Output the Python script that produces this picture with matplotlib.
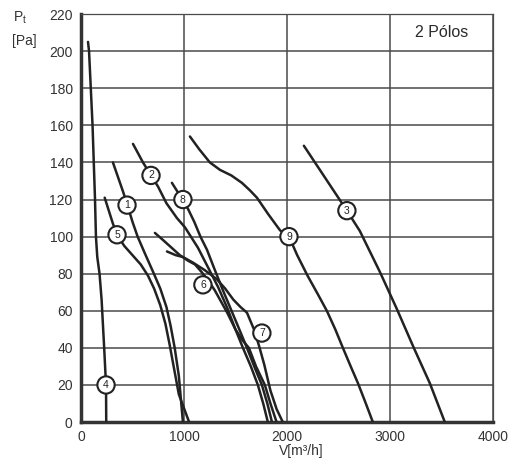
import matplotlib
matplotlib.use("Agg")
import matplotlib.pyplot as plt

plt.rcParams['font.family'] = ['Liberation Sans Narrow', 'Liberation Sans', 'DejaVu Sans']

# fan curves: flow V [m3/h] and pressure Pt [Pa]
v1 = [310, 360, 410, 456, 500, 550, 620, 700, 770, 830, 870, 910, 950, 990]
p1 = [140, 132, 124, 116, 108, 100, 91, 81, 72, 62, 52, 40, 25, 0]

v5 = [230, 270, 310, 350, 420, 500, 580, 650, 710, 770, 820, 860, 900, 950, 1050]
p5 = [121, 114, 107, 101, 95, 90, 85, 79, 72, 63, 53, 42, 30, 15, 0]

v2 = [505, 602, 680, 748, 830, 932, 1010, 1136, 1233, 1330, 1417, 1500, 1573, 1650, 1718, 1770, 1815]
p2 = [150, 140, 133, 127, 118, 110, 105, 94, 83.5, 73, 62, 50, 40, 30, 20, 10, 0]

v8 = [883, 940, 990, 1039, 1100, 1160, 1223, 1300, 1379, 1447, 1530, 1612, 1690, 1757, 1810, 1855]
p8 = [129, 124, 119, 115, 108, 100, 93, 82, 71, 62, 51, 40, 29, 20, 10, 0]

v6 = [718, 800, 880, 960, 1040, 1107, 1170, 1240, 1300, 1360, 1420, 1500, 1570, 1631, 1700, 1786, 1840, 1900]
p6 = [102, 98, 94, 90, 87, 85, 81, 76, 71, 65, 59, 50, 44, 40, 30, 20, 10, 0]

v7 = [835, 920, 990, 1087, 1200, 1320, 1400, 1480, 1550, 1612, 1680, 1730, 1780, 1840, 1900, 1960]
p7 = [92, 90, 89, 86, 82, 77, 72, 66, 62, 59, 50, 41, 31, 17, 7, 0]

v4 = [68, 78, 95, 112, 136, 145, 158, 180, 200, 225, 243, 245]
p4 = [205, 200, 180, 160, 120, 100, 89, 80, 66, 40, 20, 0]

v9 = [1058, 1150, 1252, 1350, 1460, 1563, 1640, 1709, 1820, 1932, 2029, 2100, 2200, 2300, 2388, 2470, 2544, 2620, 2690, 2760, 2835]
p9 = [154, 147, 140, 136, 133, 129, 125, 121, 112, 103.5, 99, 90, 79, 69, 60, 50, 40, 30, 21, 11, 0]

v3 = [2165, 2583, 2709, 2903, 3068, 3233, 3388, 3534]
p3 = [149, 114, 103, 81, 61, 40, 21, 0]

curves = [(v1, p1), (v2, p2), (v3, p3), (v4, p4), (v5, p5),
          (v6, p6), (v7, p7), (v8, p8), (v9, p9)]

labels = ['1', '2', '3', '4', '5', '6', '7', '8', '9']
label_v = [447, 680, 2583, 243, 350, 1184, 1757, 990, 2020]
label_p = [117, 133, 114, 20, 101, 74, 48, 120, 100]

fig = plt.figure(figsize=(5.16, 4.70), dpi=100)
ax = fig.add_axes([0.157, 0.102, 0.798, 0.868])

for v, p in curves:
    ax.plot(v, p, color='#222222', lw=1.8, solid_capstyle='round',
            solid_joinstyle='round', zorder=3)

for t, x, y in zip(labels, label_v, label_p):
    ax.text(x, y, t, ha='center', va='center', fontsize=7.5, color='#222222',
            bbox=dict(boxstyle='circle,pad=0.35', fc='white', ec='#222222', lw=1.5),
            zorder=4)

ax.set_xlim(0, 4000)
ax.set_ylim(0, 220)
ax.set_xticks([0, 1000, 2000, 3000, 4000])
ax.set_yticks(range(0, 221, 20))
ax.grid(True, color='#4a4a4a', lw=1.1)
ax.set_axisbelow(True)
ax.tick_params(length=0, labelsize=10, colors='#333333', pad=6)

for s in ['top', 'right']:
    ax.spines[s].set_linewidth(0.9)
    ax.spines[s].set_color('#4a4a4a')
for s in ['left', 'bottom']:
    ax.spines[s].set_linewidth(2.5)
    ax.spines[s].set_color('#333333')

ax.text(3500, 210, '2 Pólos', ha='center', va='center', fontsize=11.5, color='#2a2a2a')

fig.text(0.025, 0.962, 'P$_\\mathregular{t}$', fontsize=10, color='#333333', ha='left', va='center')
fig.text(0.023, 0.912, '[Pa]', fontsize=10, color='#333333', ha='left', va='center')
ax.set_xlabel('V[m³/h]', fontsize=10, color='#333333', labelpad=1)
ax.xaxis.set_label_coords(0.535, -0.055)

fig.savefig('out.png', dpi=100)
